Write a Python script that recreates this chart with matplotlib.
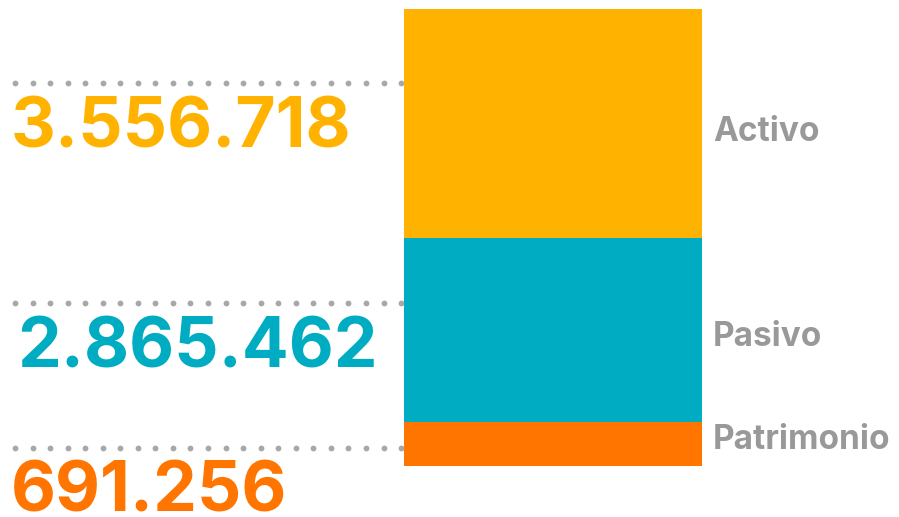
import matplotlib.pyplot as plt
import numpy as np

# Balance figures
categories = ["Patrimonio", "Pasivo", "Activo"]
values = [691256, 2865462, 3556718]
value_labels = ["691.256", "2.865.462", "3.556.718"]
colors = ["#FF7500", "#00ACC2", "#FFB200"]

W, H = 899, 517
fig = plt.figure(figsize=(W / 100, H / 100), dpi=100)

# stacked bar
ax = fig.add_axes([404 / W, 1 - 466 / H, 298 / W, 457 / H])
bottom = 0
for cat, val, col in zip(categories, values, colors):
    ax.bar(0, val, bottom=bottom, width=1, color=col, linewidth=0)
    bottom += val
ax.set_xlim(-0.5, 0.5)
ax.set_ylim(0, bottom)
ax.axis("off")

# overlay in pixel coordinates for texts and dotted guides
ov = fig.add_axes([0, 0, 1, 1], zorder=-1)
ov.set_xlim(0, W)
ov.set_ylim(H, 0)
ov.axis("off")

font = "Inter"
guide_y = {"Activo": 83, "Pasivo": 303, "Patrimonio": 448}
number_base = {"Activo": 148, "Pasivo": 368, "Patrimonio": 511}
number_x = {"Activo": 11, "Pasivo": 17, "Patrimonio": 11}
label_y = {"Activo": 132, "Pasivo": 337, "Patrimonio": 440}

dots_x = np.arange(15, 404, 17.55)
for cat, lab, col in zip(categories, value_labels, colors):
    ov.plot(dots_x, [guide_y[cat]] * len(dots_x), linestyle="none", marker="o",
            markersize=4.2, color="#A8A8A8", markeredgewidth=0)
    ov.text(number_x[cat], number_base[cat], lab, color=col, fontsize=50,
            fontweight="bold", family=font, ha="left", va="baseline")
    ov.text(713, label_y[cat], cat, color="#999999", fontsize=24,
            fontweight="bold", family=font, ha="left", va="center")

fig.savefig("out.png", dpi=100)
